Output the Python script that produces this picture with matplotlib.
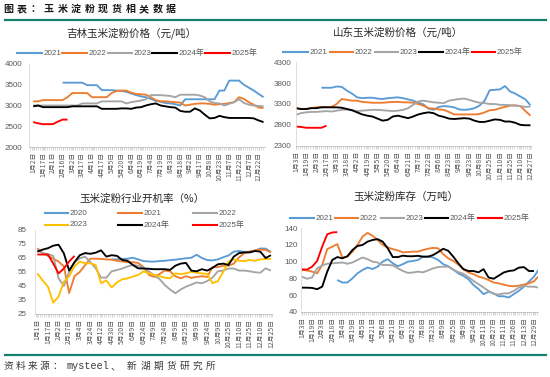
import numpy as np
import matplotlib
matplotlib.use("Agg")
import matplotlib.pyplot as plt
from matplotlib.lines import Line2D

plt.rcParams['font.family'] = ['Liberation Sans', 'Noto Sans CJK SC', 'DejaVu Sans']

N = None

# ---------------- 吉林玉米淀粉价格 (half-label steps) ----------------
jl_labels = ["1月2日", "1月17日", "2月1日", "2月16日", "3月2日", "3月17日", "4月1日", "4月17日",
             "5月5日", "5月20日", "6月4日", "6月19日", "7月4日", "7月19日", "8月3日", "8月18日",
             "9月2日", "9月17日", "10月8日", "10月23日", "11月7日", "11月22日", "12月7日", "12月22日"]
jl_2021 = [N] * 6 + [3550, 3550, 3550, 3550, 3550, 3490, 3490, 3490, 3370, 3370, 3370, 3360, 3350, 3330,
                     3290, 3250, 3220, 3200, 3160, 3110, 3090, 3060, 3050, 3030, 3000, 3150, 3150, 3150,
                     3150, 3150, 3150, 3150, 3360, 3360, 3600, 3600, 3600, 3500, 3430, 3360, 3280, 3200]
jl_2022 = [3100, 3100, 3130, 3130, 3130, 3130, 3130, 3200, 3300, 3300, 3300, 3300, 3200, 3200, 3200, 3200,
           3300, 3350, 3360, 3360, 3310, 3280, 3270, 3260, 3200, 3130, 3100, 3100, 3090, 3080, 3070, 3000,
           3020, 3040, 3050, 3050, 3040, 3020, 3030, 3040, 3060, 3080, 3200, 3160, 3080, 3020, 2950, 2940]
jl_2023 = [3000, 3000, 3000, 3000, 3000, 3000, 3000, 3000, 3000, 3000, 3050, 3050, 3050, 3050, 3100, 3100,
           3100, 3100, 3100, 3050, 3080, 3100, 3120, 3150, 3250, 3250, 3250, 3240, 3230, 3200, 3260, 3260,
           3260, 3260, 3240, 3200, 3100, 3060, 3050, 3000, 3040, 3080, 3150, 3060, 3020, 3000, 2990, 2980]
jl_2024 = [2980, 3000, 2960, 2960, 2960, 2960, 2960, 2960, 2980, 2980, 2980, 2980, 2980, 2980, 2920, 2920,
           2920, 2920, 2930, 2930, 2920, 2950, 2960, 3000, 3030, 3050, 3000, 2980, 2960, 2950, 2870, 2850,
           2850, 2930, 2880, 2780, 2690, 2700, 2750, 2720, 2700, 2700, 2700, 2700, 2700, 2690, 2640, 2600]
jl_2025 = [2600, 2570, 2550, 2550, 2550, 2610, 2660, 2660]

# ---------------- 山东玉米淀粉价格 ----------------
sd_labels = ["1月3日", "1月19日", "2月3日", "2月17日", "3月3日", "3月18日", "4月2日", "4月19日",
             "5月5日", "5月20日", "6月4日", "6月21日", "7月7日", "7月22日", "8月6日", "8月23日",
             "9月8日", "9月23日", "10月8日", "10月25日", "11月10日", "11月25日", "12月10日", "12月27日"]
sd_2021 = [N] * 5 + [3690, 3690, 3690, 3720, 3710, 3620, 3550, 3460, 3440, 3450, 3450, 3430, 3420, 3440,
                     3450, 3460, 3440, 3410, 3380, 3330, 3290, 3190, 3160, 3230, 3250, 3240, 3220, 3170,
                     3160, 3170, 3200, 3260, 3380, 3630, 3640, 3650, 3730, 3600, 3550, 3480, 3410, 3270]
sd_2022 = [3200, 3180, 3180, 3200, 3220, 3230, 3230, 3230, 3300, 3420, 3400, 3380, 3380, 3350, 3340, 3330,
           3330, 3330, 3340, 3350, 3350, 3340, 3340, 3330, 3300, 3260, 3200, 3190, 3170, 3160, 3110, 3050,
           3050, 3050, 3050, 3050, 3060, 3100, 3150, 3160, 3200, 3230, 3260, 3270, 3250, 3130, 3020]
sd_2023 = [3040, 3080, 3100, 3110, 3110, 3120, 3130, 3120, 3140, 3160, 3170, 3150, 3130, 3140, 3150, 3160,
           3160, 3150, 3140, 3130, 3140, 3160, 3200, 3280, 3360, 3380, 3360, 3340, 3330, 3320, 3380, 3400,
           3420, 3430, 3400, 3360, 3330, 3320, 3300, 3300, 3280, 3280, 3270, 3260, 3250, 3230, 3240]
sd_2024 = [3200, 3180, 3180, 3200, 3200, 3220, 3220, 3220, 3220, 3210, 3180, 3150, 3100, 3050, 3020, 3000,
           2950, 2900, 2920, 3000, 3020, 2990, 2960, 3000, 3050, 3080, 3100, 3080, 3020, 2990, 2950, 2940,
           2950, 2960, 2950, 2900, 2870, 2870, 2900, 2930, 2920, 2880, 2880, 2850, 2800, 2790, 2790]
sd_2025 = [2760, 2750, 2730, 2730, 2730, 2730, 2780]

# ---------------- 玉米淀粉行业开机率 ----------------
kj_labels = ["1月1日", "1月17日", "2月2日", "2月17日", "3月4日", "3月24日", "4月12日", "4月30日",
             "5月20日", "6月9日", "6月24日", "7月9日", "7月24日", "8月9日", "8月25日", "9月9日",
             "9月24日", "10月9日", "10月25日", "11月10日", "11月25日", "12月10日", "12月25日"]
kj_2020 = [N] * 14 + [64, 64, 64.3, 64.5, 65.2, 64, 62.8, 62.5, 62.4, 62.8, 63, 63.5, 63.8, 64.3, 64.8,
                      65.2, 67.3, 65, 63.5, 63.3, 64, 65.5, 66.8, 69.5, 70, 69.3, 69.5, 70.2, 71.8, 71.7, 69.3]
kj_2021 = [72, 68.5, 66.5, 64.5, 62.5, 59, 40, 52, 55, 60, 64.5,
           64.5, 64.3, 64, 63.8, 63, 62.5, 62, 62, 61.5, 58.5, 53, 51.5, 53.5, 56, 55.5, 52, 50.5,
           52, 50.8, 51.5, 52, 51.5, 58.5, 58.5, 59.5, 59.5, 61, 65.5, 68.5, 69.5, 70.5, 71, 70.8, 69]
kj_2022 = [70.7, 68.5, 67.8, 66.5, 50.5, 45, 55, 62, 64.8, 66, 62, 57.6, 51,
           51, 55.5, 56.4, 57.5, 59, 60, 59.5, 58, 55.5, 52.5, 50, 45.7, 42.5, 39.8, 42.5, 44.5,
           46, 47.5, 47, 48.5, 51, 55.5, 56, 57.5, 57.5, 56, 56, 55.5, 54.8, 54.5, 57.6, 56]
kj_2023 = [54, 49, 44.5, 33.1, 37.4, 48, 52, 59, 62.4, 61.2,
           61.2, 60, 47, 49, 44, 47.5, 49.8, 50.5, 51.7, 52.9,
           55.5, 54, 53, 52, 51, 50.5, 54, 53.5, 54, 55.2,
           54.5, 54, 53.6, 47, 48.5, 55, 62.4, 64, 63, 62.8,
           63.6, 63, 64, 64.3, 64.3]
kj_2024 = [69.5, 71, 72, 73.8, 74.5, 68.3, 56, 62, 67, 68.5,
           68, 68.8, 70.5, 66, 67, 66.5, 63.6, 63, 60, 57.6,
           57.5, 57.3, 57, 57, 57, 56.5, 59.5, 61, 61.5, 56,
           55.5, 57, 56, 58, 60.5, 61, 60, 66, 68.5, 69,
           69, 70, 69.5, 65, 67]
kj_2025 = [67.5, 67.5, 67.5, 61, 54, 57.5, 62.5, 66.5]

# ---------------- 玉米淀粉库存 ----------------
kc_labels = ["1月3日", "1月19日", "2月3日", "2月18日", "3月4日", "3月19日", "4月5日", "4月21日",
             "5月6日", "5月21日", "6月7日", "6月23日", "7月8日", "7月23日", "8月9日", "8月25日",
             "9月9日", "9月24日", "10月11日", "10月27日", "11月11日", "11月26日", "12月13日", "12月29日"]
kc_2021 = [N] * 7 + [78, 75, 75, 80, 86, 90, 93, 91.2, 94, 100, 103, 98, 94.5, 97, 100, 100.8, 102, 106,
                     106, 105, 102, 97, 94.5, 90.5, 86, 83, 79, 72, 67.2, 61, 64, 62, 58.5, 58.5, 57, 61,
                     65, 70, 76, 82, 91]
kc_2022 = [90, 89.5, 88, 86, 96, 115, 118, 121, 105, 106, 112, 120, 130, 134.5, 131, 126,
           120, 117, 115, 113.5, 111.2, 111.5, 112, 112, 114, 115.5, 116.5, 116, 109, 104, 101, 96.5,
           91, 87, 85, 82, 80.5, 78, 75, 74, 72.5, 71, 70.5, 71.2, 72.5, 74, 76.5, 83]
kc_2023 = [82, 79.5, 81, 92, 95.5, 97.5, 98, 98.5, 99, 97.5, 99, 102, 105, 103, 100, 99,
           96, 96, 95.5, 92, 88.8, 86.5, 87, 88, 87.2, 89.5, 92, 93.5, 94, 94, 90.5, 87.5,
           85.5, 81.5, 77, 73, 69, 64.8, 61.5, 60.5, 62, 62, 65, 69, 71, 70, 70, 68.8]
kc_2024 = [68.8, 68.8, 68.5, 67, 70, 88, 102, 105.5, 104, 106.5, 114, 118.8, 120, 124, 126, 127,
           124, 116, 105.5, 105.5, 107.2, 106.5, 106.5, 107, 106, 106, 108, 111.5, 115.5, 113, 106, 98,
           91, 88.8, 88.8, 87.2, 91, 81, 79.5, 83.2, 87, 88.8, 89.5, 92.8, 93.5, 88.8, 88.8]
kc_2025 = [90.8, 90.5, 94, 100.8, 118, 132.8, 135, 135.4]

# ---------------- styling ----------------
W, H = 550, 377
C_BLUE, C_ORANGE, C_GRAY = '#5B9BD5', '#ED7D31', '#A5A5A5'
C_YELLOW, C_BLACK, C_RED = '#FFC000', '#000000', '#FF0000'
TEAL = '#16806f'
TXT = '#595959'

fig = plt.figure(figsize=(5.5, 3.77), dpi=100)


def fx(x):
    return x / W


def fy(y):
    return 1 - y / H


def panel(rect, xlabels, series, ylim, yticks, xlim, ypad):
    l, r, t, b = rect
    ax = fig.add_axes([fx(l), fy(b), (r - l) / W, (b - t) / H])
    for vals, color in series:
        arr = np.array([np.nan if v is None else v for v in vals], dtype=float)
        ax.plot(np.arange(len(arr)) * 0.5, arr, color=color, lw=1.35,
                solid_joinstyle='round', solid_capstyle='butt', clip_on=True)
    ax.set_xlim(*xlim)
    ax.set_ylim(*ylim)
    ax.set_yticks(yticks)
    ax.set_yticklabels([str(v) for v in yticks])
    ax.set_xticks(np.arange(len(xlabels)))
    ax.set_xticklabels(xlabels, rotation=90, fontsize=4.9,
                       family=['Noto Sans CJK SC', 'DejaVu Sans'], color=TXT)
    ax.set_xticks(np.arange(xlim[0] + 0.05, xlim[1], 0.2), minor=True)
    ax.tick_params(axis='x', which='both', length=2.5, width=0.4, color='#bfbfbf', pad=1.2)
    ax.tick_params(axis='y', length=0, pad=ypad, labelsize=5.8, labelcolor=TXT)
    for s in ('top', 'right'):
        ax.spines[s].set_visible(False)
    ax.spines['left'].set_color('#d9d9d9')
    ax.spines['left'].set_linewidth(0.6)
    ax.spines['bottom'].set_color('#bfbfbf')
    ax.spines['bottom'].set_linewidth(0.6)
    ax.patch.set_alpha(0)
    return ax


def legend(items, y):
    for x0, x1, label, color in items:
        fig.add_artist(Line2D([fx(x0), fx(x1)], [fy(y), fy(y)], transform=fig.transFigure,
                              color=color, lw=1.5))
        fig.text(fx(x1 + 1.5), fy(y), label, ha='left', va='center', fontsize=5.8, color=TXT,
                 family=['Liberation Sans', 'Noto Sans CJK SC'])


def title(s, cx, cy):
    fig.text(fx(cx), fy(cy), s, ha='center', va='center', fontsize=7.6,
             family=['Noto Sans CJK SC', 'DejaVu Sans'], color='#262626')


# Panel 1 吉林
panel((29.3, 265, 64, 147), jl_labels,
      [(jl_2021, C_BLUE), (jl_2022, C_ORANGE), (jl_2023, C_GRAY), (jl_2024, C_BLACK), (jl_2025, C_RED)],
      (2000, 4000), [2000, 2500, 3000, 3500, 4000], (-0.4, 23.65), 5.2)
title("吉林玉米淀粉价格（元/吨）", 131, 33.3)
legend([(17, 42, "2021", C_BLUE), (62, 87, "2022", C_ORANGE), (108, 132, "2023", C_GRAY),
        (152, 177, "2024年", C_BLACK), (205, 230, "2025年", C_RED)], 53.3)

# Panel 2 山东
panel((295.7, 531, 62.3, 145.7), sd_labels,
      [(sd_2021, C_BLUE), (sd_2022, C_ORANGE), (sd_2023, C_GRAY), (sd_2024, C_BLACK), (sd_2025, C_RED)],
      (2300, 4300), [2300, 2800, 3300, 3800, 4300], (-0.02, 23.05), 3.0)
title("山东玉米淀粉价格（元/吨）", 398, 31.7)
legend([(283, 308, "2021", C_BLUE), (330, 353, "2022", C_ORANGE), (375, 398, "2023", C_GRAY),
        (419, 443, "2024年", C_BLACK), (472, 495, "2025年", C_RED)], 52.3)

# Panel 3 开机率
panel((35.3, 272, 230, 314), kj_labels,
      [(kj_2020, C_BLUE), (kj_2021, C_ORANGE), (kj_2022, C_GRAY), (kj_2023, C_YELLOW),
       (kj_2024, C_BLACK), (kj_2025, C_RED)],
      (25, 85), [25, 35, 45, 55, 65, 75, 85], (-0.19, 22.1), 6.0)
title("玉米淀粉行业开机率（%）", 142, 199)
legend([(45, 68, "2020", C_BLUE), (118, 142, "2021", C_ORANGE), (193, 217, "2022", C_GRAY)], 213.3)
legend([(45, 68, "2023", C_YELLOW), (118, 142, "2024年", C_BLACK), (193, 217, "2025年", C_RED)], 225)

# Panel 4 库存
panel((301, 538, 228.3, 311.7), kc_labels,
      [(kc_2021, C_BLUE), (kc_2022, C_ORANGE), (kc_2023, C_GRAY), (kc_2024, C_BLACK), (kc_2025, C_RED)],
      (40, 140), [40, 60, 80, 100, 120, 140], (-0.1, 23.4), 2.5)
title("玉米淀粉库存（万吨）", 406, 197)
legend([(290, 314, "2021", C_BLUE), (335, 358, "2022", C_ORANGE), (381, 404, "2023", C_GRAY),
        (425, 448, "2024年", C_BLACK), (478, 502, "2025年", C_RED)], 218)

# Header
header = "图表：玉米淀粉现货相关数据"
for i, ch in enumerate(header):
    fig.text(fx(8 + 13.6 * i), fy(9.2), ch, ha='center', va='center', fontsize=7.2,
             fontweight='bold', family=['Noto Sans CJK SC'], color='#1a1a1a')
fig.add_artist(Line2D([fx(5), fx(546)], [fy(20), fy(20)], transform=fig.transFigure,
                      color=TEAL, lw=1.6))

# Footer
fig.add_artist(Line2D([fx(5), fx(546)], [fy(355), fy(355)], transform=fig.transFigure,
                      color=TEAL, lw=1.6))
src_a = "资料来源："
for i, ch in enumerate(src_a):
    fig.text(fx(8 + 12.3 * i), fy(366), ch, ha='center', va='center', fontsize=7,
             family=['Noto Sans CJK SC'], color='#3a3a3a')
fig.text(fx(66.5), fy(366), "mysteel", ha='left', va='center', fontsize=7.3,
         family=['Liberation Mono', 'DejaVu Sans Mono'], color='#3a3a3a')
fig.text(fx(115), fy(366), "、", ha='center', va='center', fontsize=7,
         family=['Noto Sans CJK SC'], color='#3a3a3a')
src_b = "新湖期货研究所"
for i, ch in enumerate(src_b):
    fig.text(fx(132 + 13.1 * i), fy(366), ch, ha='center', va='center', fontsize=7,
             family=['Noto Sans CJK SC'], color='#3a3a3a')

fig.savefig("out.png", dpi=100)
